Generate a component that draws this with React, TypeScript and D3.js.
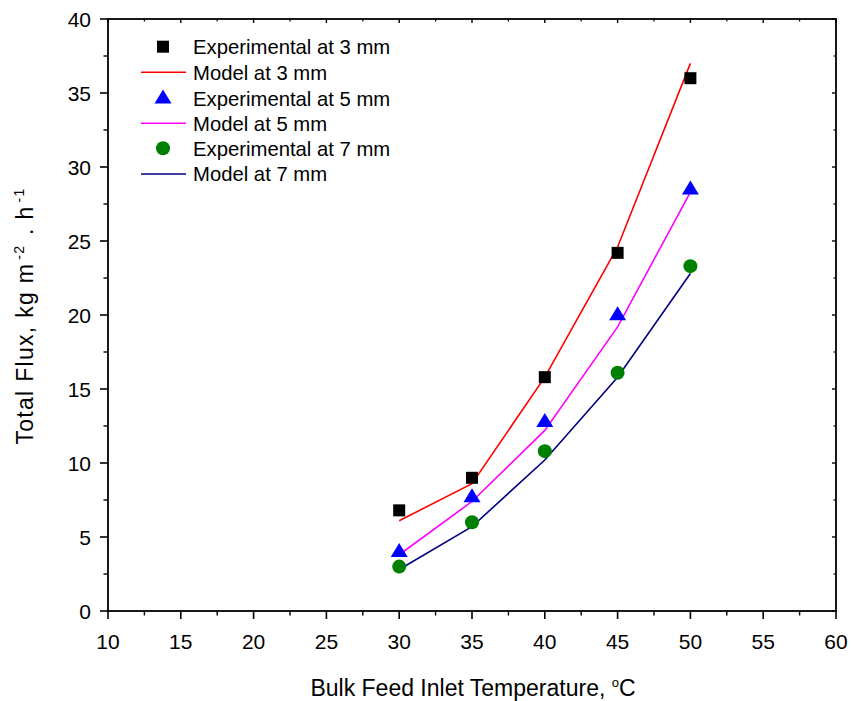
import React from "react";
import * as d3 from "d3";

// Bulk feed inlet temperature (°C)
const temps = [30, 35, 40, 45, 50];

// Experimental total flux (kg m^-2 h^-1)
const exp3 = [6.8, 9.0, 15.8, 24.2, 36.0];
const exp5 = [4.0, 7.7, 12.8, 20.0, 28.5];
const exp7 = [3.0, 6.0, 10.8, 16.1, 23.3];

// Model total flux (kg m^-2 h^-1)
const model3 = [6.1, 8.6, 15.8, 24.6, 37.0];
const model5 = [3.8, 7.4, 12.2, 19.2, 28.3];
const model7 = [2.8, 5.7, 10.2, 15.8, 22.8];

const xTicks = [10, 15, 20, 25, 30, 35, 40, 45, 50, 55, 60];
const yTicks = [0, 5, 10, 15, 20, 25, 30, 35, 40];

const legendLabels = [
  "Experimental at 3 mm",
  "Model at 3 mm",
  "Experimental at 5 mm",
  "Model at 5 mm",
  "Experimental at 7 mm",
  "Model at 7 mm",
];

const W = 851;
const H = 701;
const M = { left: 108, right: 836, top: 19, bottom: 611 };
const FONT = "'Liberation Sans', Arial, sans-serif";

const RED = "#ff0000";
const MAGENTA = "#ff00ff";
const NAVY = "#000080";
const BLUE = "#0000ff";
const GREEN = "#008000";

function Square({ cx, cy }: { cx: number; cy: number }) {
  const s = 12;
  return <rect x={cx - s / 2} y={cy - s / 2} width={s} height={s} fill="#000" />;
}
function Triangle({ cx, cy }: { cx: number; cy: number }) {
  const w = 17, h = 14;
  return (
    <path
      d={`M${cx},${cy - h * 0.62}L${cx + w / 2},${cy + h * 0.38}L${cx - w / 2},${cy + h * 0.38}Z`}
      fill={BLUE}
    />
  );
}
function Circle({ cx, cy }: { cx: number; cy: number }) {
  return <circle cx={cx} cy={cy} r={7} fill={GREEN} />;
}

export default function App() {
  const x = d3.scaleLinear().domain([10, 60]).range([M.left, M.right]);
  const y = d3.scaleLinear().domain([0, 40]).range([M.bottom, M.top]);

  const line = d3
    .line<number>()
    .x((_, i) => x(temps[i]))
    .y((d) => y(d));

  const xMinor = d3.range(12.5, 60, 5);
  const yMinor = d3.range(2.5, 40, 5);

  const legendX = 163;
  const legendRows = [46.7, 72.3, 98.3, 123.3, 148.3, 174];

  return (
    <svg width={W} height={H} style={{ display: "block", position: "absolute", left: 0, top: 0 }}>
      <rect width={W} height={H} fill="#fff" />

      {/* model curves */}
      <path d={line(model3) || ""} fill="none" stroke={RED} strokeWidth={1.6} />
      <path d={line(model5) || ""} fill="none" stroke={MAGENTA} strokeWidth={1.6} />
      <path d={line(model7) || ""} fill="none" stroke={NAVY} strokeWidth={1.6} />

      {/* experimental points */}
      {exp3.map((v, i) => (
        <Square key={"s" + i} cx={x(temps[i])} cy={y(v)} />
      ))}
      {exp5.map((v, i) => (
        <Triangle key={"t" + i} cx={x(temps[i])} cy={y(v)} />
      ))}
      {exp7.map((v, i) => (
        <Circle key={"c" + i} cx={x(temps[i])} cy={y(v)} />
      ))}

      {/* frame */}
      <rect
        x={M.left}
        y={M.top}
        width={M.right - M.left}
        height={M.bottom - M.top}
        fill="none"
        stroke="#000"
        strokeWidth={1.8}
      />

      {/* bottom axis ticks & labels */}
      {xTicks.map((t) => (
        <g key={"xt" + t}>
          <line x1={x(t)} x2={x(t)} y1={M.bottom} y2={M.bottom + 8} stroke="#000" strokeWidth={1.6} />
          <line x1={x(t)} x2={x(t)} y1={M.top} y2={M.top + 4} stroke="#000" strokeWidth={1.4} />
          <text
            x={x(t)}
            y={649}
            textAnchor="middle"
            fontFamily={FONT}
            fontSize={21}
            fill="#000"
          >
            {t}
          </text>
        </g>
      ))}
      {xMinor.map((t) => (
        <g key={"xm" + t}>
          <line x1={x(t)} x2={x(t)} y1={M.bottom} y2={M.bottom + 4.5} stroke="#000" strokeWidth={1.4} />
          <line x1={x(t)} x2={x(t)} y1={M.top} y2={M.top + 2.5} stroke="#000" strokeWidth={1.2} />
        </g>
      ))}

      {/* left axis ticks & labels */}
      {yTicks.map((t) => (
        <g key={"yt" + t}>
          <line x1={M.left - 8} x2={M.left} y1={y(t)} y2={y(t)} stroke="#000" strokeWidth={1.6} />
          <line x1={M.right - 4} x2={M.right} y1={y(t)} y2={y(t)} stroke="#000" strokeWidth={1.4} />
          <text
            x={M.left - 17}
            y={y(t) + 7.5}
            textAnchor="end"
            fontFamily={FONT}
            fontSize={21}
            fill="#000"
          >
            {t}
          </text>
        </g>
      ))}
      {yMinor.map((t) => (
        <g key={"ym" + t}>
          <line x1={M.left - 4.5} x2={M.left} y1={y(t)} y2={y(t)} stroke="#000" strokeWidth={1.4} />
          <line x1={M.right - 2.5} x2={M.right} y1={y(t)} y2={y(t)} stroke="#000" strokeWidth={1.2} />
        </g>
      ))}

      {/* axis titles */}
      <text x={473} y={695.5} textAnchor="middle" fontFamily={FONT} fontSize={23} fill="#000">
        Bulk Feed Inlet Temperature, <tspan dy={-9} fontSize={13}>o</tspan>
        <tspan dy={9}>C</tspan>
      </text>
      <text
        transform={`translate(33,${316}) rotate(-90)`}
        textAnchor="middle"
        fontFamily={FONT}
        fontSize={23}
        letterSpacing={1.3}
        fill="#000"
      >
        Total Flux, kg m<tspan dx={3} dy={-9} fontSize={14}>-2</tspan>
        <tspan dx={2} dy={9}> . h</tspan>
        <tspan dx={3} dy={-9} fontSize={14}>-1</tspan>
      </text>

      {/* legend */}
      <g>
        <Square cx={legendX} cy={legendRows[0]} />
        <line x1={141} x2={186} y1={legendRows[1]} y2={legendRows[1]} stroke={RED} strokeWidth={1.6} />
        <Triangle cx={legendX} cy={legendRows[2]} />
        <line x1={141} x2={186} y1={legendRows[3]} y2={legendRows[3]} stroke={MAGENTA} strokeWidth={1.6} />
        <Circle cx={legendX} cy={legendRows[4]} />
        <line x1={141} x2={186} y1={legendRows[5]} y2={legendRows[5]} stroke={NAVY} strokeWidth={1.6} />
        {legendLabels.map((lab, i) => (
          <text
            key={lab}
            x={193}
            y={legendRows[i] + 7.3}
            fontFamily={FONT}
            fontSize={20.3}
            fill="#000"
          >
            {lab}
          </text>
        ))}
      </g>
    </svg>
  );
}
